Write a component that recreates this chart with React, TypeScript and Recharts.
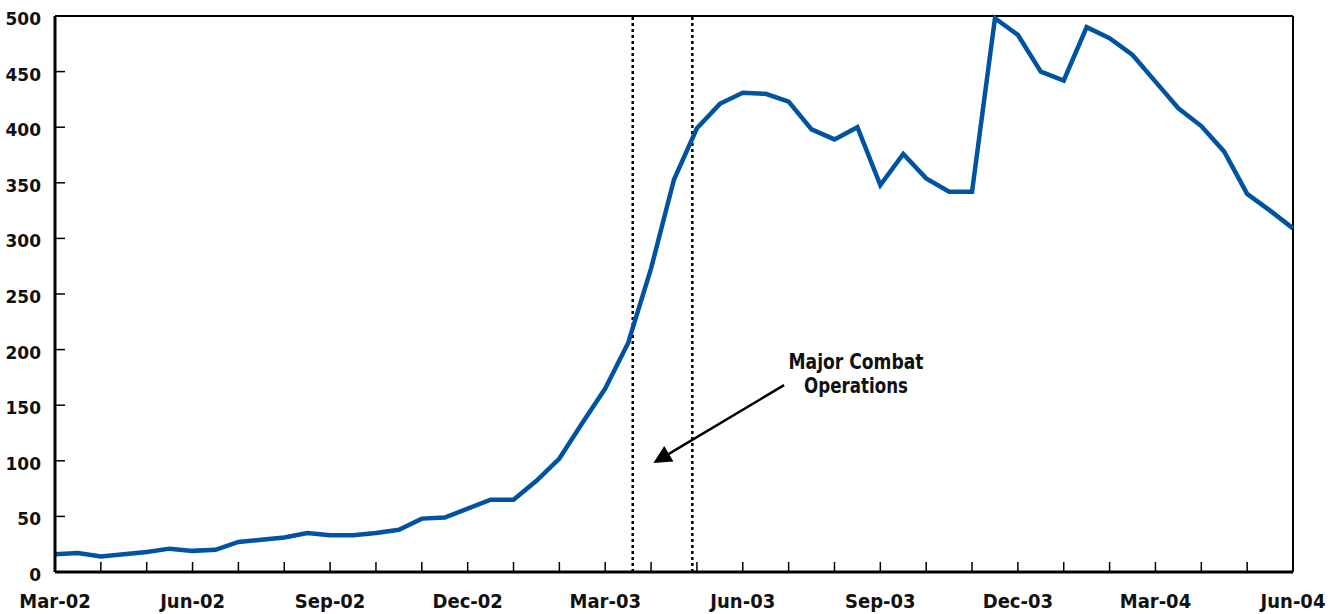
import { LineChart, Line, XAxis, YAxis, ReferenceLine } from "recharts";

// semi-monthly readings, Mar-02 .. Jun-04
const values = [
  16, 17, 14, 16, 18, 21, 19, 20, 27, 29,
  31, 35, 33, 33, 35, 38, 48, 49, 57, 65,
  65, 82, 102, 134, 165, 206, 273, 353, 399, 421,
  431, 430, 423, 398, 389, 400, 348, 376, 354, 342,
  342, 498, 483, 450, 442, 490, 480, 465, 441, 417,
  401, 378, 340, 325, 309,
];

const tickLabels = [
  "Mar-02", "Jun-02", "Sep-02", "Dec-02", "Mar-03",
  "Jun-03", "Sep-03", "Dec-03", "Mar-04", "Jun-04",
];

const yTicks = [0, 50, 100, 150, 200, 250, 300, 350, 400, 450, 500];

// months since Mar-02
const combatStart = 12.6;
const combatEnd = 13.9;
const arrowFrom = { x: 15.9, y: 168 };
const arrowTo = { x: 13.05, y: 98 };

const data = values.map((v, i) => ({ t: i / 2, v }));
const monthTicks = Array.from({ length: 28 }, (_, i) => i);

const condensed = "'DejaVu Sans Condensed', 'DejaVu Sans', sans-serif";

function MonthTick(props: any) {
  const { x, y, payload } = props;
  const m = payload.value;
  if (m % 3 !== 0) return null;
  return (
    <text
      x={x}
      y={y}
      dy={16}
      textAnchor="middle"
      fontFamily={condensed}
      fontWeight="bold"
      fontSize={20}
      fill="#111"
    >
      {tickLabels[m / 3]}
    </text>
  );
}

function Arrow(props: any) {
  const { x1, y1, x2, y2 } = props;
  const dx = x2 - x1;
  const dy = y2 - y1;
  const len = Math.sqrt(dx * dx + dy * dy);
  const ux = dx / len;
  const uy = dy / len;
  const head = 18;
  const half = 9;
  const bx = x2 - ux * head;
  const by = y2 - uy * head;
  const pts = [
    [x2, y2],
    [bx - uy * half, by + ux * half],
    [bx + uy * half, by - ux * half],
  ]
    .map((p) => p.join(","))
    .join(" ");
  const textProps = {
    textAnchor: "middle" as const,
    fontFamily: condensed,
    fontWeight: "bold",
    fontSize: 22,
    fill: "#111",
    lengthAdjust: "spacingAndGlyphs",
  };
  return (
    <g>
      <line x1={x1} y1={y1} x2={bx} y2={by} stroke="#000" strokeWidth={2.5} />
      <polygon points={pts} fill="#000" />
      <text x={x1 + 72} y={y1 - 16} textLength={135} {...textProps}>
        Major Combat
      </text>
      <text x={x1 + 72} y={y1 + 8} textLength={104} {...textProps}>
        Operations
      </text>
    </g>
  );
}

export default function App() {
  return (
    <div style={{ position: "absolute", left: 0, top: 0, background: "#fff" }}>
      <LineChart
        width={1341}
        height={614}
        data={data}
        margin={{ top: 16, right: 48, bottom: 0, left: 0 }}
      >
        <XAxis
          dataKey="t"
          type="number"
          domain={[0, 27]}
          ticks={monthTicks}
          interval={0}
          height={42}
          tickSize={-10}
          tickMargin={30}
          axisLine={{ stroke: "#000", strokeWidth: 3 }}
          tickLine={{ stroke: "#000", strokeWidth: 1.5 }}
          tick={<MonthTick />}
        />
        <YAxis
          domain={[0, 500]}
          ticks={yTicks}
          interval={0}
          width={55}
          tickSize={-10}
          tickMargin={24}
          axisLine={{ stroke: "#000", strokeWidth: 3 }}
          tickLine={{ stroke: "#000", strokeWidth: 1.5 }}
          tick={{ fill: "#111", fontSize: 17, fontWeight: "bold", fontFamily: "'DejaVu Sans', sans-serif", dy: 3 }}
        />
        <ReferenceLine y={500} stroke="#000" strokeWidth={2} />
        <ReferenceLine x={27} stroke="#000" strokeWidth={2} />
        <ReferenceLine x={combatStart} stroke="#000" strokeWidth={2.5} strokeDasharray="3 3" />
        <ReferenceLine x={combatEnd} stroke="#000" strokeWidth={2.5} strokeDasharray="3 3" />
        <ReferenceLine segment={[arrowFrom, arrowTo]} shape={<Arrow />} />
        <Line
          type="linear"
          dataKey="v"
          stroke="#0053A0"
          strokeWidth={4.5}
          dot={false}
          isAnimationActive={false}
        />
      </LineChart>
    </div>
  );
}
